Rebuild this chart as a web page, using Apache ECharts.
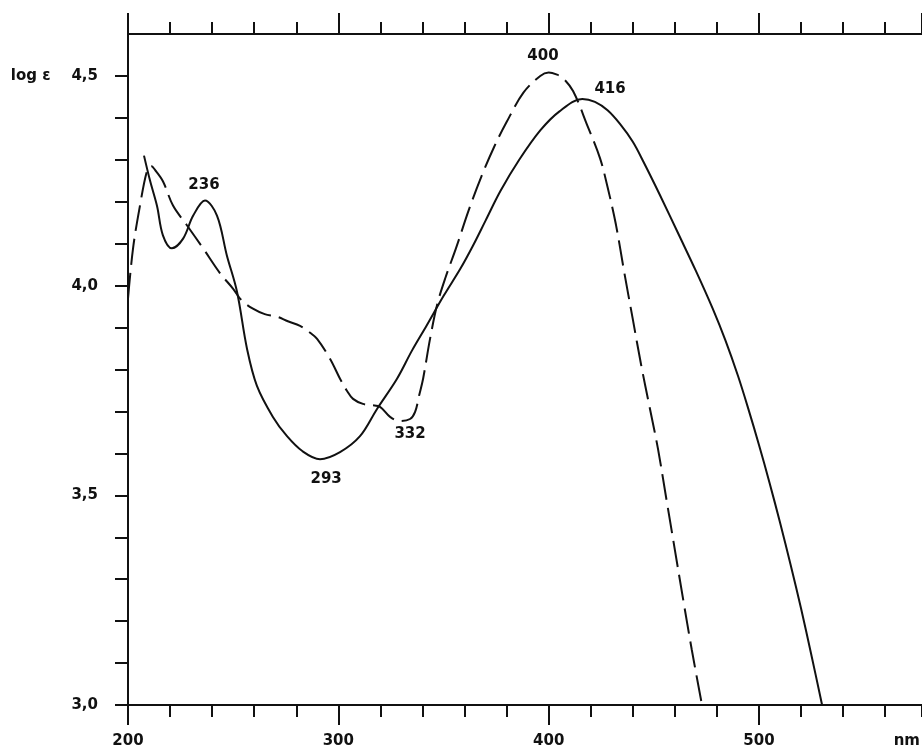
<!DOCTYPE html>
<html>
<head>
<meta charset="utf-8">
<script src="https://cdn.jsdelivr.net/npm/echarts@6/dist/echarts.min.js"></script>
<style>
html,body{margin:0;padding:0;background:#fff;}
#chart{width:922px;height:749px;}
</style>
</head>
<body>
<div id="chart"></div>
<script>
// ---- Data (wavelength nm, log ε) ----
const solidX = [207.6,210.5,213.8,216.6,220.9,226.2,231,236.6,242.3,247,251.8,256.6,261.3,268.9,275.6,283,291.3,300.8,310.3,318.4,327.9,335,342,350,358,364,370,377,386,396,405,416,422,428,434,440,445,453,462,470,478,484,490,495,500,505,510,515,520,525,530];
const solidY = [4.31,4.25,4.19,4.12,4.089,4.112,4.167,4.203,4.167,4.072,3.986,3.849,3.761,3.687,3.641,3.605,3.586,3.603,3.641,3.706,3.778,3.845,3.905,3.975,4.04,4.095,4.155,4.225,4.30,4.37,4.415,4.445,4.438,4.418,4.385,4.343,4.296,4.215,4.12,4.035,3.945,3.87,3.785,3.705,3.62,3.53,3.435,3.335,3.23,3.117,3.0];
const dashX = [200,202.4,205.7,209,211,213,216.6,221.4,228,235.7,243.7,249.9,254,259.4,265,270.8,276,281.8,286,289.9,296.1,300.8,304,307,311.7,316,319.8,324.6,329.3,334.1,336.5,338.5,340.3,343.6,347,351,356,362,368,374,380,388,396,400,404,406.8,411.6,418.3,424.4,428,432,436,440,444,448,452,456,460,464,468,472.9];
const dashY = [3.969,4.089,4.191,4.273,4.285,4.275,4.249,4.191,4.144,4.089,4.03,3.993,3.965,3.945,3.932,3.926,3.915,3.904,3.89,3.873,3.825,3.778,3.75,3.73,3.718,3.715,3.711,3.687,3.677,3.682,3.699,3.74,3.778,3.873,3.955,4.02,4.09,4.18,4.26,4.33,4.39,4.46,4.50,4.508,4.503,4.495,4.464,4.383,4.304,4.235,4.145,4.03,3.92,3.81,3.71,3.61,3.49,3.37,3.25,3.133,3.0];
// peak / valley annotations: text and their data positions
const noteText = ['236','293','332','400','416'];
const noteX = [236.1,294.2,334.1,397.3,429.2];
const noteY = [4.239,3.538,3.646,4.548,4.469];
// axis settings
const xMin = 200, xMax = 577.5, xMajor = 100, xMinor = 20;
const yMin = 3.0, yMax = 4.6, yStep = 0.1;
const yLabelValues = [3.0, 3.5, 4.0, 4.5];
const yLabelTexts = ['3,0', '3,5', '4,0', 'log ε    4,5'];
const xUnit = 'nm';

const FONT = 'DejaVu Sans';
const INK = '#111';

function zip(a, b) { return a.map((v, i) => [v, b[i]]); }

function xAxisCfg(pos, interval, tickLen, showLabel, showLine) {
  return {
    type: 'value', position: pos, min: xMin, max: xMax, interval: interval,
    axisLine: { show: showLine, onZero: false, lineStyle: { color: INK, width: 2 } },
    axisTick: { show: true, inside: false, length: tickLen, lineStyle: { color: INK, width: 2 } },
    axisLabel: {
      show: showLabel, margin: 29, color: INK, fontFamily: FONT, fontWeight: 'bold', fontSize: 15,
      showMaxLabel: false,
      formatter: v => (Math.abs(v % xMajor) < 1e-6 ? String(Math.round(v)) : '')
    },
    splitLine: { show: false }
  };
}

const chart = echarts.init(document.getElementById('chart'), null, { renderer: 'canvas' });
chart.setOption({
  animation: false,
  backgroundColor: '#fff',
  grid: { left: 128, right: 0, top: 34, bottom: 44 },
  xAxis: [
    xAxisCfg('bottom', xMajor, 20, true, true),
    xAxisCfg('bottom', xMinor, 12, false, false),
    xAxisCfg('top', xMajor, 21, false, true),
    xAxisCfg('top', xMinor, 12, false, false)
  ],
  yAxis: {
    type: 'value', min: yMin, max: yMax, interval: yStep,
    axisLine: { show: true, onZero: false, lineStyle: { color: INK, width: 2 } },
    axisTick: { show: true, inside: false, length: 13, lineStyle: { color: INK, width: 2 } },
    axisLabel: {
      margin: 30, color: INK, fontFamily: FONT, fontWeight: 'bold', fontSize: 15,
      showMaxLabel: false,
      formatter: v => {
        for (let i = 0; i < yLabelValues.length; i++) {
          if (Math.abs(v - yLabelValues[i]) < 1e-6) return yLabelTexts[i];
        }
        return '';
      }
    },
    splitLine: { show: false }
  },
  graphic: [{
    type: 'text', right: 2, top: 734,
    style: { text: xUnit, fill: INK, font: 'bold 15px "DejaVu Sans"' }
  }],
  series: [
    {
      type: 'line', data: zip(solidX, solidY), showSymbol: false, smooth: 0.35,
      lineStyle: { color: INK, width: 2 }, clip: true
    },
    {
      type: 'line', data: zip(dashX, dashY), showSymbol: false, smooth: 0.35,
      lineStyle: { color: INK, width: 2, type: [26, 8] }, clip: true
    },
    {
      type: 'scatter', data: zip(noteX, noteY), symbolSize: 1,
      itemStyle: { color: 'rgba(0,0,0,0)', opacity: 1 },
      label: {
        show: true, position: 'inside', color: INK, opacity: 1, fontFamily: FONT, fontWeight: 'bold', fontSize: 15,
        formatter: p => noteText[p.dataIndex]
      },
      emphasis: { disabled: true },
      silent: true
    }
  ]
});
</script>
</body>
</html>
